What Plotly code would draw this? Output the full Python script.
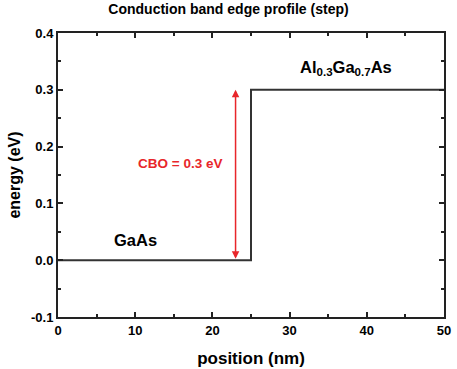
import plotly.graph_objects as go

position = [0, 25, 25, 50]
energy = [0.0, 0.0, 0.3, 0.3]
x_ticks = [0, 10, 20, 30, 40, 50]
y_ticks = [-0.1, 0.0, 0.1, 0.2, 0.3, 0.4]
cbo_x = 23
cbo_bottom = 0.0
cbo_top = 0.3

font = "Liberation Sans, Arial, sans-serif"

fig = go.Figure()
fig.add_trace(go.Scatter(x=position, y=energy, mode="lines",
                         line=dict(color="#333333", width=2), showlegend=False))

fig.add_annotation(x=cbo_x, y=cbo_top, ax=cbo_x, ay=cbo_bottom, xref="x", yref="y",
                   axref="x", ayref="y", text="", showarrow=True, arrowhead=2,
                   arrowside="end+start", arrowsize=1, arrowwidth=1.5, arrowcolor="#e8262a")
fig.add_annotation(x=21.5, y=0.171, text="<b>CBO = 0.3 eV</b>", showarrow=False,
                   xanchor="right", font=dict(color="#e8262a", size=13.5, family=font))
fig.add_annotation(x=10, y=0.035, text="<b>GaAs</b>", showarrow=False,
                   font=dict(color="black", size=16.5, family=font))
fig.add_annotation(x=37.3, y=0.338, text="<b>Al<sub>0.3</sub>Ga<sub>0.7</sub>As</b>", showarrow=False,
                   font=dict(color="black", size=16.5, family=font))

axis_common = dict(showline=True, linecolor="#222222", linewidth=2, mirror="allticks",
                   ticks="inside", ticklen=5, tickwidth=1.5, tickcolor="#222222",
                   showgrid=False, zeroline=False, automargin=False,
                   tickfont=dict(family=font, size=13, color="black"))

fig.update_xaxes(range=[0, 50], tickvals=x_ticks, ticktext=[f"<b>{v}</b>" for v in x_ticks],
                 minor=dict(ticks="inside", ticklen=3, tickwidth=1.5, tickcolor="#222222", dtick=5),
                 title=dict(text="<b>position (nm)</b>", font=dict(family=font, size=17, color="black"),
                            standoff=16),
                 **axis_common)
fig.update_yaxes(range=[-0.1, 0.4], tickvals=y_ticks, ticktext=[f"<b>{v:.1f}</b>" for v in y_ticks],
                 minor=dict(ticks="inside", ticklen=3, tickwidth=1.5, tickcolor="#222222", dtick=0.05),
                 title=dict(text="<b>energy (eV)</b>", font=dict(family=font, size=16, color="black"),
                            standoff=6),
                 **axis_common)

fig.update_layout(width=457, height=369, plot_bgcolor="white", paper_bgcolor="white",
                  margin=dict(l=58, r=13, t=33, b=52),
                  title=dict(text="<b>Conduction band edge profile (step)</b>", x=0.5, xanchor="center",
                             y=0.976, yanchor="middle", font=dict(family=font, size=14, color="black")))

fig.write_html("out.html", config={"displayModeBar": False},
               post_script="document.body.style.margin='0';")
